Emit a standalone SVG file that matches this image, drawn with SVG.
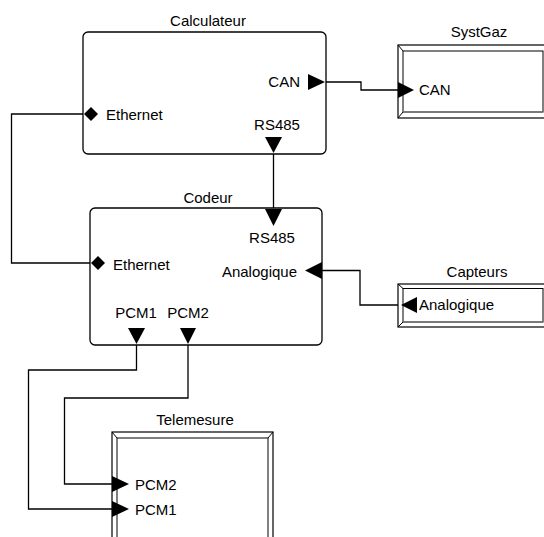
<svg xmlns="http://www.w3.org/2000/svg" width="544" height="537" viewBox="0 0 544 537">
<style>
text{font-family:"Liberation Sans",Arial,sans-serif;font-size:15px;fill:#000}
.box{fill:#fff;stroke:#000;stroke-width:1.3}
.frame{fill:#fff;stroke:#000;stroke-width:1.2}
.bev{fill:none;stroke:#000;stroke-width:1}
.wire{fill:none;stroke:#000;stroke-width:1.3}
.port{fill:#000}
.mid{text-anchor:middle}
.end{text-anchor:end}
</style>
<rect width="544" height="537" fill="#fff"/>
<g id="connectors">
<polyline class="wire" points="84,114 11.5,114 11.5,263 91,263"/>
<polyline class="wire" points="273.5,153 273.5,209"/>
<polyline class="wire" points="325,82 361,82 361,90 398,90"/>
<polyline class="wire" points="322,270.5 360,270.5 360,305 401,305"/>
<polyline class="wire" points="136.5,344 136.5,370 28.5,370 28.5,509 112,509"/>
<polyline class="wire" points="188,344 188,398 64.5,398 64.5,484 112,484"/>
</g>
<g id="calculateur">
<text class="mid" x="208" y="26">Calculateur</text>
<rect class="box" x="83" y="32" width="243" height="122" rx="5"/>
<text class="end" x="300" y="87">CAN</text>
<polygon class="port" points="308,74 325,82 308,90"/>
<polygon class="port" points="84,114 91,107 98,114 91,121"/>
<text x="106" y="120">Ethernet</text>
<text class="mid" x="277" y="130">RS485</text>
<polygon class="port" points="265,137 282,137 273.5,153"/>
</g>
<g id="systgaz">
<text class="mid" x="479" y="37">SystGaz</text>
<rect class="frame" x="398" y="45" width="152" height="73"/>
<rect class="bev" x="403" y="51" width="140" height="61"/>
<line class="bev" x1="398" y1="45" x2="403" y2="51"/>
<line class="bev" x1="398" y1="118" x2="403" y2="112"/>
<line x1="403" y1="112" x2="543" y2="112" stroke="#777" stroke-width="1.5"/>
<polygon class="port" points="398,82 414,90 398,98"/>
<text x="419" y="95">CAN</text>
</g>
<g id="codeur">
<text class="mid" x="208" y="203">Codeur</text>
<rect class="box" x="90" y="208" width="232" height="137" rx="5"/>
<polygon class="port" points="265,209 282,209 273.5,226"/>
<text class="mid" x="272" y="243">RS485</text>
<polygon class="port" points="91,263 98,256 105,263 98,270"/>
<text x="113" y="270">Ethernet</text>
<text class="end" x="297" y="277">Analogique</text>
<polygon class="port" points="305,270.5 322,262 322,279"/>
<text class="mid" x="136" y="318">PCM1</text>
<text class="mid" x="188" y="318">PCM2</text>
<polygon class="port" points="128,328 145,328 136.5,344"/>
<polygon class="port" points="180,328 196,328 188,344"/>
</g>
<g id="capteurs">
<text class="mid" x="477" y="277">Capteurs</text>
<rect class="frame" x="398" y="284" width="152" height="43"/>
<rect class="bev" x="403" y="288.5" width="140" height="33.5"/>
<line class="bev" x1="398" y1="284" x2="403" y2="288.5"/>
<line class="bev" x1="398" y1="327" x2="403" y2="322"/>
<line x1="403" y1="322" x2="543" y2="322" stroke="#777" stroke-width="1.5"/>
<polygon class="port" points="401,305 417,297 417,313"/>
<text x="419" y="310">Analogique</text>
</g>
<g id="telemesure">
<text class="mid" x="195" y="425">Telemesure</text>
<rect class="frame" x="112" y="432" width="161" height="130"/>
<rect class="bev" x="117" y="438" width="151" height="120"/>
<line class="bev" x1="112" y1="432" x2="117" y2="438"/>
<line class="bev" x1="273" y1="432" x2="268" y2="438"/>
<polygon class="port" points="112,476 129,484 112,492"/>
<polygon class="port" points="112,501 129,509 112,517"/>
<text x="135" y="490">PCM2</text>
<text x="135" y="515">PCM1</text>
</g>
</svg>
